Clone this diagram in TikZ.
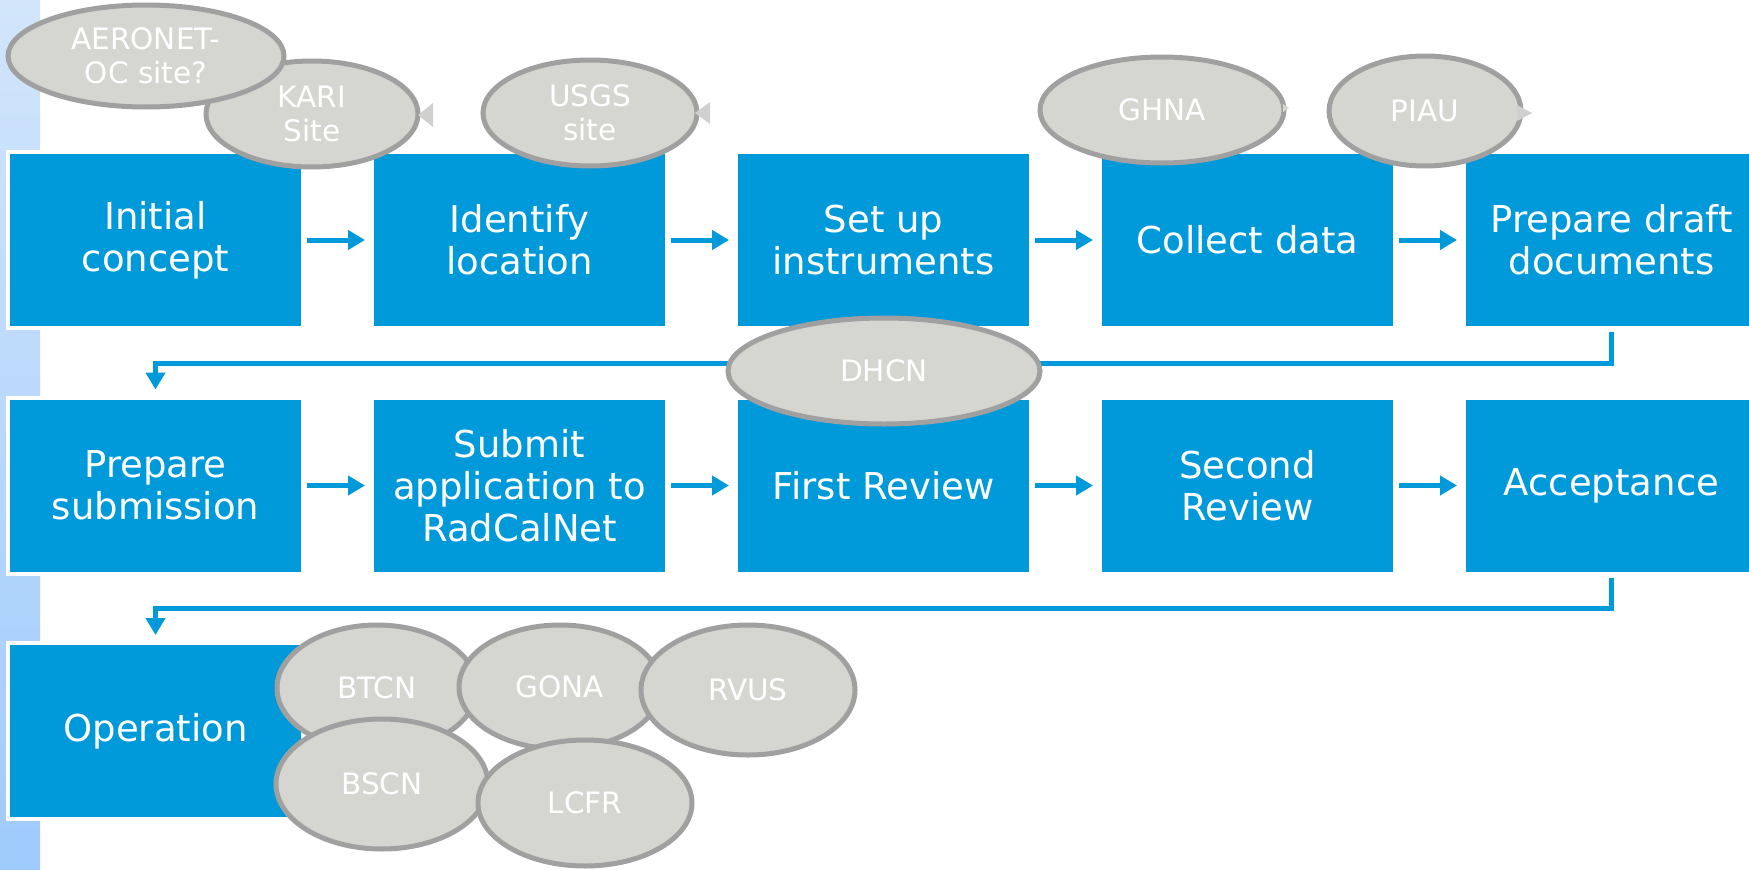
\documentclass[tikz,border=0pt]{standalone}
\usepackage{fontspec}
\setmainfont{DejaVu Sans}
\usetikzlibrary{arrows.meta,shapes.geometric,calc}
\definecolor{boxblue}{HTML}{0099DA}
\definecolor{ovfill}{HTML}{D6D6D1}
\definecolor{ovline}{HTML}{A0A0A0}
\definecolor{ovtip}{HTML}{D0D0CE}
\definecolor{barTop}{HTML}{D2E5FB}
\definecolor{barBot}{HTML}{9ECBFB}
\begin{document}
\begin{tikzpicture}[x=1pt,y=-1pt,
  stepbox/.style={rectangle, fill=boxblue, draw=white, line width=4pt,
    minimum width=295pt, minimum height=176pt, inner sep=0pt, outer sep=0pt,
    text=white, align=center, font=\fontsize{37}{42}\selectfont},
  site/.style={ellipse, fill=ovfill, draw=ovline, line width=5pt,
    inner sep=0pt, outer sep=0pt, text=white, align=center,
    font=\fontsize{29.5}{34}\selectfont},
  flow/.style={draw=boxblue, line width=5pt, -{Triangle[length=17pt,width=19pt]}},
  ret/.style={draw=boxblue, line width=5pt, -{Triangle[length=17pt,width=19pt]}}
]
\useasboundingbox (0,0) rectangle (1749,870);
\shade[top color=barTop, bottom color=barBot] (0,0) rectangle (40,870);

% row 1
\node[stepbox] (b1) at (155.5,240) {Initial\\concept};
\node[stepbox] (b2) at (519.5,240) {Identify\\location};
\node[stepbox] (b3) at (883.5,240) {Set up\\instruments};
\node[stepbox] (b4) at (1247.5,240) {Collect data};
\node[stepbox] (b5) at (1611.5,240) {Prepare draft\\documents};
% row 2
\node[stepbox] (b6) at (155.5,485.5) {Prepare\\submission};
\node[stepbox] (b7) at (519.5,485.5) {Submit\\application to\\RadCalNet};
\node[stepbox] (b8) at (883.5,485.5) {First Review};
\node[stepbox] (b9) at (1247.5,485.5) {Second\\Review};
\node[stepbox] (b10) at (1611.5,485.5) {Acceptance};
% row 3
\node[stepbox] (b11) at (155.5,731) {Operation};

% arrows
\foreach \a/\b in {b1/b2,b2/b3,b3/b4,b4/b5,b6/b7,b7/b8,b8/b9,b9/b10}
  \draw[flow] ([xshift=4pt]\a.east) -- ([xshift=-7pt]\b.west);
\draw[ret] ([yshift=-4pt]b5.south) -- ++(0,31) -| ([yshift=8pt]b6.north);
\draw[ret] ([yshift=-4pt]b10.south) -- ++(0,31) -| ([yshift=8pt]b11.north);

% site ellipses, top row
\node[site, minimum width=212pt, minimum height=106pt] (kari) at (312,114) {KARI\\Site};
\fill[ovtip] (418,115) -- (433,103) -- (433,127) -- cycle;
\node[site, minimum width=276pt, minimum height=102pt] (aero) at (146,56) {AERONET-\\OC site?};
\node[site, minimum width=214pt, minimum height=106pt] (usgs) at (590,113) {USGS\\site};
\fill[ovtip] (695,113) -- (710,102) -- (710,124) -- cycle;
\node[site, minimum width=244pt, minimum height=106pt] (ghna) at (1162,110) {GHNA};
\fill[ovfill] (1289,108) -- (1283,104) -- (1283,112) -- cycle;
\node[site, minimum width=192pt, minimum height=110pt] (piau) at (1425,111) {PIAU};
\fill[ovtip] (1532,113) -- (1517,105) -- (1517,121) -- cycle;

% DHCN
\node[site, minimum width=312pt, minimum height=106pt] (dhcn) at (884,371) {DHCN};

% bottom cluster
\node[site, minimum width=200pt, minimum height=126pt] (btcn) at (377,688) {BTCN};
\node[site, minimum width=202pt, minimum height=124pt] (gona) at (560,687) {GONA};
\node[site, minimum width=214pt, minimum height=130pt] (rvus) at (748,690) {RVUS};
\node[site, minimum width=212pt, minimum height=130pt] (bscn) at (382,784) {BSCN};
\node[site, minimum width=214pt, minimum height=126pt] (lcfr) at (585,803) {LCFR};
\end{tikzpicture}
\end{document}
